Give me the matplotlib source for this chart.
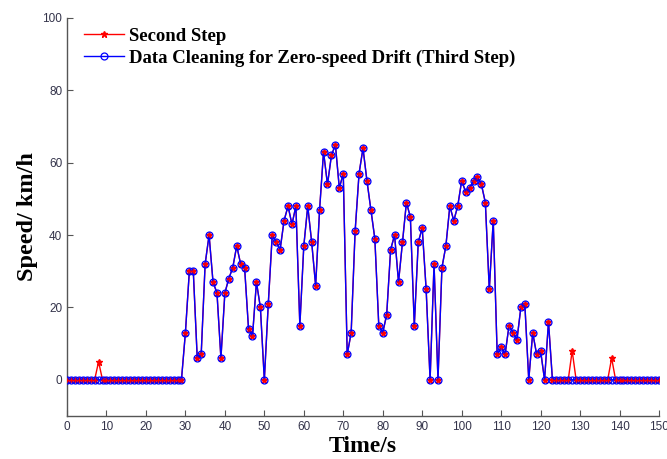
import matplotlib
matplotlib.use("Agg")
import matplotlib.pyplot as plt
import numpy as np

time_s = list(range(0, 151))
second_step = (
    [0]*8 + [5] + [0]*21 +
    [13, 30, 30, 6, 7, 32, 40, 27, 24, 6,
     24, 28, 31, 37, 32, 31, 14, 12, 27, 20,
     0, 21, 40, 38, 36, 44, 48, 43, 48, 15,
     37, 48, 38, 26, 47, 63, 54, 62, 65, 53,
     57, 7, 13, 41, 57, 64, 55, 47, 39, 15,
     13, 18, 36, 40, 27, 38, 49, 45, 15, 38,
     42, 25, 0, 32, 0, 31, 37, 48, 44, 48,
     55, 52, 53, 55, 56, 54, 49, 25, 44, 7,
     9, 7, 15, 13, 11, 20, 21, 0, 13, 7,
     8, 0, 16, 0] +
    [0]*4 + [8] + [0]*9 + [6] + [0]*12
)
third_step = [0 if (t < 30 or t > 123) else v for t, v in zip(time_s, second_step)]

fig = plt.figure(figsize=(6.67, 4.59), dpi=100)
ax = fig.add_axes([67/667, 1-416/459, (659-67)/667, (416-18)/459])

ax.plot(time_s, second_step, color='red', lw=1.0, marker='*', ms=4.5,
        label='Second Step', zorder=2)
ax.plot(time_s, third_step, color='blue', lw=1.0, marker='o', ms=5,
        mfc='none', mec='blue', mew=0.9,
        label='Data Cleaning for Zero-speed Drift (Third Step)', zorder=3)
ax.plot(time_s, second_step, color='red', lw=0, marker='+', ms=3.5, mew=1.0, zorder=4)

ax.set_xlim(0, 150)
ax.set_ylim(-10, 100)
ax.set_xticks(np.arange(0, 151, 10))
ax.set_yticks(np.arange(0, 101, 20))
for s in ['top', 'right']:
    ax.spines[s].set_visible(False)
for s in ['left', 'bottom']:
    ax.spines[s].set_color('#555555')
    ax.spines[s].set_linewidth(1.0)
ax.tick_params(direction='in', length=4, color='#555555', labelcolor='#33334a',
               labelsize=8.5)
for lbl in ax.get_xticklabels() + ax.get_yticklabels():
    lbl.set_fontfamily('Liberation Sans')

serif = 'Liberation Serif'
ax.set_xlabel('Time/s', fontfamily=serif, fontweight='bold', fontsize=17, labelpad=2)
ax.set_ylabel('Speed/ km/h', fontfamily=serif, fontweight='bold', fontsize=17.5, labelpad=3)

leg = ax.legend(loc='upper left', frameon=False,
                prop={'family': serif, 'weight': 'bold', 'size': 13.5},
                handlelength=2.15, handletextpad=0.25, borderaxespad=0.0, labelspacing=0.25,
                borderpad=0.2, bbox_to_anchor=(0.022, 0.985))

fig.savefig('out.png', dpi=100)
